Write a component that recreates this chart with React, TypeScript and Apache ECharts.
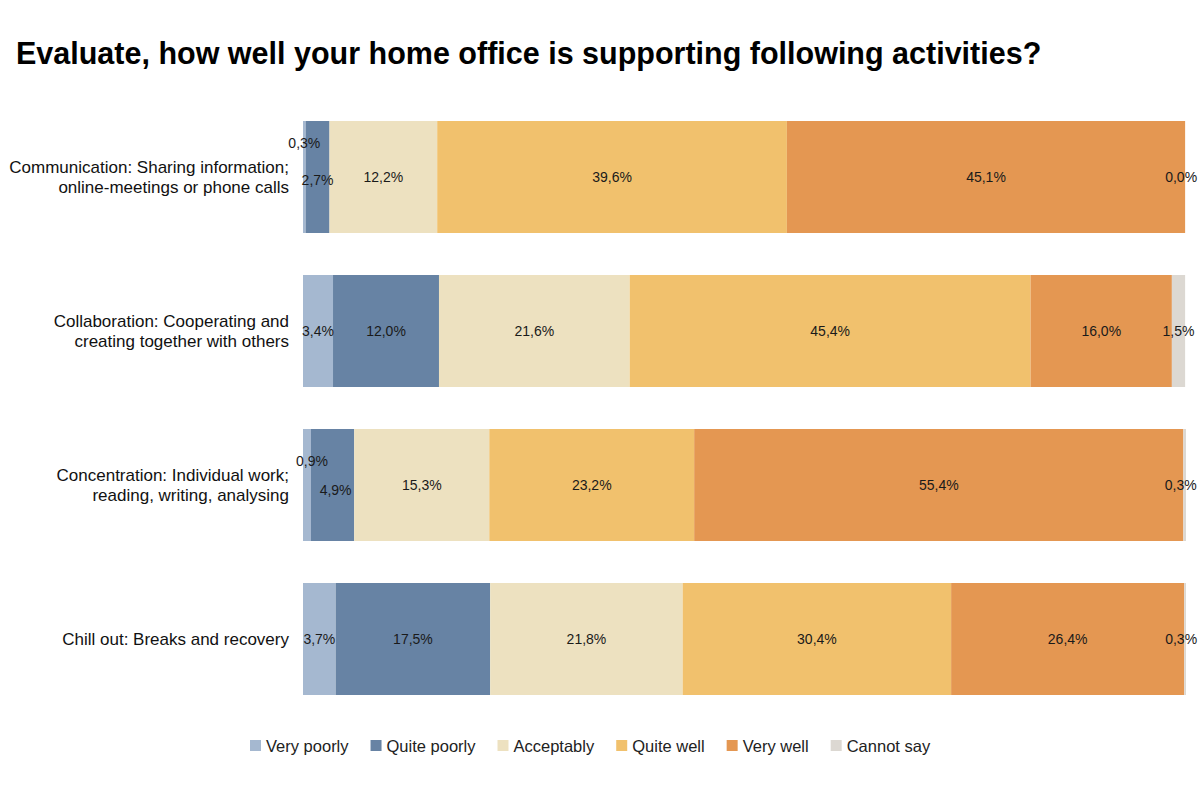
import React, { useEffect, useRef } from "react";
import * as echarts from "echarts";

const categories = [
  "Communication: Sharing information;\nonline-meetings or phone calls",
  "Collaboration: Cooperating and\ncreating together with others",
  "Concentration: Individual work;\nreading, writing, analysing",
  "Chill out: Breaks and recovery",
];
const seriesNames = ["Very poorly", "Quite poorly", "Acceptably", "Quite well", "Very well", "Cannot say"];
const veryPoorly = [0.3, 3.4, 0.9, 3.7];
const quitePoorly = [2.7, 12.0, 4.9, 17.5];
const acceptably = [12.2, 21.6, 15.3, 21.8];
const quiteWell = [39.6, 45.4, 23.2, 30.4];
const veryWell = [45.1, 16.0, 55.4, 26.4];
const cannotSay = [0.0, 1.5, 0.3, 0.3];
const colors = ["#a5b8d0", "#6783a4", "#ede1c0", "#f1c16d", "#e49752", "#dcd8d2"];

const FONT = "'Liberation Sans', Arial, sans-serif";

export default function App() {
  const ref = useRef<HTMLDivElement>(null);
  useEffect(() => {
    const chart = echarts.init(ref.current!, null, { renderer: "svg" });
    const allData = [veryPoorly, quitePoorly, acceptably, quiteWell, veryWell, cannotSay];
    const fmt = (p: any) => Number(p.value).toFixed(1).replace(".", ",") + "%";
    const series = allData.map((arr, i) => ({
      name: seriesNames[i],
      type: "bar",
      stack: "total",
      barWidth: 112,
      itemStyle: { color: colors[i] },
      data: arr.map((v, j) => {
        const d: any = { value: v };
        if (i === 0 && j === 0) d.label = { offset: [0, -34] };
        if (i === 0 && j === 2) d.label = { offset: [5, -24] };
        if (i === 1 && j === 0) d.label = { offset: [0, 3] };
        if (i === 1 && j === 2) d.label = { offset: [3, 5] };
        if (i === 5 && v < 1) d.label = { offset: [-4, 0] };
        return d;
      }),
      label: {
        show: true,
        position: "inside",
        formatter: fmt,
        color: "#1a1a1a",
        fontSize: 14,
        fontFamily: FONT,
      },
    }));
    chart.setOption({
      animation: false,
      title: {
        text: "Evaluate, how well your home office is supporting following activities?",
        left: 16,
        top: 37,
        padding: 0,
        textStyle: { fontSize: 30.5, fontWeight: "bold", color: "#000", fontFamily: FONT },
      },
      legend: {
        left: 250,
        top: 737,
        padding: 0,
        itemWidth: 11,
        itemHeight: 11,
        itemGap: 22,
        icon: "rect",
        textStyle: { fontSize: 16.5, color: "#222", fontFamily: FONT },
        data: seriesNames,
      },
      grid: { left: 303, right: 14, top: 100, bottom: 85, containLabel: false },
      xAxis: {
        type: "value",
        min: 0,
        max: 100,
        show: false,
      },
      yAxis: {
        type: "category",
        inverse: true,
        data: categories,
        axisLine: { show: false },
        axisTick: { show: false },
        axisLabel: {
          margin: 14,
          fontSize: 17,
          color: "#111",
          fontFamily: FONT,
          lineHeight: 20,
          align: "right",
        },
      },
      series,
    });
    return () => chart.dispose();
  }, []);
  return <div ref={ref} style={{ position: "fixed", left: 0, top: 0, width: 1200, height: 801, background: "#fff" }} />;
}
